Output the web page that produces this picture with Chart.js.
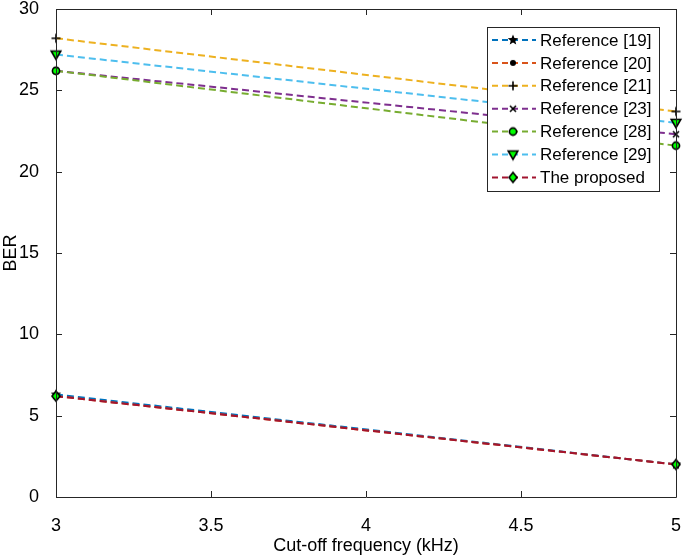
<!DOCTYPE html>
<html>
<head>
<meta charset="utf-8">
<script src="https://cdn.jsdelivr.net/npm/chart.js@4.4.1/dist/chart.umd.min.js"></script>
<style>
html,body{margin:0;padding:0;background:#fff;}
#wrap{width:685px;height:557px;}
</style>
</head>
<body>
<div id="wrap"><canvas id="myChart" width="685" height="557"></canvas></div>
<script>
'use strict'
// cut-off frequency (kHz)
let freqs=[3,5];
let ref19=[6.3,2.0];
let ref20=[6.2,2.0];
let ref21=[28.2,23.7];
let ref23=[26.2,22.3];
let ref28=[26.2,21.6];
let ref29=[27.2,23.0];
let proposed=[6.2,2.0];
let seriesNames=['Reference [19]','Reference [20]','Reference [21]','Reference [23]','Reference [28]','Reference [29]','The proposed'];
let yTicks=[0,5,10,15,20,25,30];
let xTicks=[3,3.5,4,4.5,5];

let FONT='"Liberation Sans", Arial, sans-serif';

// little canvases for markers chart.js doesn't have
function makeMarker(kind){
    let c=document.createElement('canvas');
    c.width=14;c.height=14;
    let g=c.getContext('2d');
    g.translate(7,7);
    g.lineWidth=1.2;
    g.strokeStyle='#000';
    if(kind==='star'){
        g.beginPath();
        for(let i=0;i<10;i++){
            let r=i%2===0?5.5:2.4;
            let a=-Math.PI/2+i*Math.PI/5;
            g.lineTo(r*Math.cos(a),r*Math.sin(a));
        }
        g.closePath();
        g.fillStyle='#000';g.fill();
    }else if(kind==='dot'){
        g.beginPath();g.arc(0,0,3,0,Math.PI*2);g.fillStyle='#000';g.fill();
    }else if(kind==='plus'){
        g.beginPath();g.moveTo(-4.5,0);g.lineTo(4.5,0);g.moveTo(0,-4.5);g.lineTo(0,4.5);g.lineWidth=1.6;g.stroke();
    }else if(kind==='cross'){
        g.beginPath();g.moveTo(-3,-3);g.lineTo(3,3);g.moveTo(3,-3);g.lineTo(-3,3);g.lineWidth=1.6;g.stroke();
    }else if(kind==='circle'){
        g.beginPath();g.arc(0,0,3.6,0,Math.PI*2);g.fillStyle='#00ff00';g.fill();g.lineWidth=1.6;g.stroke();
    }else if(kind==='tri'){
        g.beginPath();g.moveTo(-4.8,-3.5);g.lineTo(4.8,-3.5);g.lineTo(0,4.8);g.closePath();
        g.fillStyle='#00ff00';g.fill();g.lineWidth=1.6;g.stroke();
    }else if(kind==='diamond'){
        g.beginPath();g.moveTo(0,-5);g.lineTo(4,0);g.lineTo(0,5);g.lineTo(-4,0);g.closePath();
        g.fillStyle='#00ff00';g.fill();g.lineWidth=1.6;g.stroke();
    }
    return c;
}

let colors=['#0072BD','#D95319','#EDB120','#7E2F8E','#77AC30','#4DBEEE','#A2142F'];
let markers=['star','dot','plus','cross','circle','tri','diamond'].map(makeMarker);
let allData=[ref19,ref20,ref21,ref23,ref28,ref29,proposed];

let datasets=[];
for(let i=0;i<allData.length;i++){
    datasets.push({
        label:seriesNames[i],
        data:freqs.map((f,j)=>({x:f,y:allData[i][j]})),
        borderColor:colors[i],
        borderWidth:2,
        borderDash:[7,4],
        pointStyle:markers[i],
        pointRadius:7,
        fill:false,
        clip:false,
        tension:0
    });
}
// draw order: later series on top, like matlab
datasets.forEach((d,i)=>d.order=allData.length-i);

// box, inward ticks and legend
let matlabAxes={
    id:'matlabAxes',
    afterDraw(chart){
        let ctx=chart.ctx;
        let a=chart.chartArea;
        let xs=chart.scales.x, ys=chart.scales.y;
        ctx.save();
        ctx.strokeStyle='#262626';
        ctx.lineWidth=1;
        ctx.beginPath();
        ctx.rect(Math.round(a.left)+0.5,Math.round(a.top)+0.5,Math.round(a.right-a.left),Math.round(a.bottom-a.top));
        ctx.stroke();
        ctx.beginPath();
        yTicks.forEach(v=>{
            let p=Math.round(ys.getPixelForValue(v))+0.5;
            ctx.moveTo(a.left,p);ctx.lineTo(a.left+6,p);
            ctx.moveTo(a.right,p);ctx.lineTo(a.right-6,p);
        });
        xTicks.forEach(v=>{
            let p=Math.round(xs.getPixelForValue(v))+0.5;
            ctx.moveTo(p,a.bottom);ctx.lineTo(p,a.bottom-6);
            ctx.moveTo(p,a.top);ctx.lineTo(p,a.top+6);
        });
        ctx.stroke();

        // legend
        let lx=487, ly=27, lw=172, lh=164;
        ctx.fillStyle='#fff';
        ctx.fillRect(lx,ly,lw,lh);
        ctx.strokeStyle='#262626';
        ctx.strokeRect(lx+0.5,ly+0.5,lw,lh);
        ctx.font='17px '+FONT;
        ctx.textBaseline='middle';
        for(let i=0;i<seriesNames.length;i++){
            let cy=40+i*22.9;
            ctx.strokeStyle=colors[i];
            ctx.lineWidth=2;
            ctx.setLineDash([6,4]);
            ctx.beginPath();ctx.moveTo(492,cy);ctx.lineTo(536,cy);ctx.stroke();
            ctx.setLineDash([]);
            ctx.drawImage(markers[i],513-7,cy-7);
            ctx.fillStyle='#000';
            ctx.fillText(seriesNames[i],540,cy+1);
        }
        ctx.restore();
    }
};

let ctx=document.getElementById('myChart').getContext('2d');
let myChart=new Chart(ctx,{
    type:'line',
    data:{datasets:datasets},
    options:{
        responsive:false,
        animation:false,
        layout:{padding:{top:6,right:7,left:0,bottom:0}},
        plugins:{legend:{display:false},tooltip:{enabled:false}},
        scales:{
            x:{
                type:'linear',min:3,max:5,
                afterBuildTicks(s){s.ticks=xTicks.map(v=>({value:v}));},
                afterFit(s){s.height=60;s.paddingLeft=0;s.paddingRight=0;},
                grid:{display:false},
                border:{display:false},
                ticks:{color:'#000',font:{family:FONT,size:18},padding:10,maxRotation:0,
                    callback:v=>String(v)},
                title:{display:true,text:'Cut-off frequency (kHz)',color:'#000',font:{family:FONT,size:18},padding:{top:2,bottom:0}}
            },
            y:{
                min:0,max:30,
                afterBuildTicks(s){s.ticks=yTicks.map(v=>({value:v}));},
                afterFit(s){s.width=56;s.paddingTop=0;s.paddingBottom=0;},
                grid:{display:false},
                border:{display:false},
                ticks:{color:'#000',font:{family:FONT,size:18},padding:9,callback:v=>String(v)},
                title:{display:true,text:'BER',color:'#000',font:{family:FONT,size:18},padding:{top:0,bottom:2}}
            }
        }
    },
    plugins:[matlabAxes]
});
</script>
</body>
</html>
